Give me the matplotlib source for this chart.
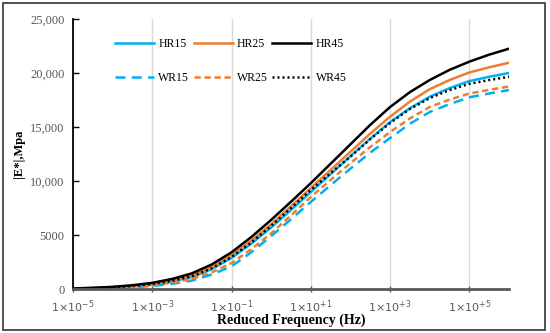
import numpy as np
import matplotlib
matplotlib.use('Agg')
import matplotlib.pyplot as plt
from matplotlib.patches import Rectangle

# reduced frequency, half-decade steps (log10)
log_freq = [-5, -4.5, -4, -3.5, -3, -2.5, -2, -1.5, -1, -0.5, 0, 0.5, 1,
            1.5, 2, 2.5, 3, 3.5, 4, 4.5, 5, 5.5, 6]

# |E*| (MPa)
hr15 = [30, 75, 140, 250, 410, 700, 1100, 1840, 2880, 4210, 5700, 7320, 8980,
        10640, 12300, 13920, 15460, 16740, 17800, 18600, 19250, 19650, 20000]
hr25 = [40, 90, 165, 295, 480, 790, 1230, 2030, 3150, 4500, 6000, 7660, 9350,
        11030, 12700, 14390, 15950, 17350, 18500, 19350, 20050, 20530, 20950]
hr45 = [50, 110, 200, 350, 570, 930, 1450, 2270, 3400, 4820, 6400, 8080, 9800,
        11600, 13400, 15200, 16850, 18230, 19350, 20290, 21050, 21700, 22250]
wr15 = [20, 48, 90, 170, 280, 480, 780, 1340, 2100, 3400, 4900, 6460, 8060,
        9620, 11150, 12630, 13980, 15300, 16390, 17120, 17750, 18100, 18420]
wr25 = [25, 63, 115, 215, 350, 590, 930, 1540, 2400, 3690, 5150, 6820, 8520,
        10100, 11650, 13150, 14540, 15790, 16850, 17530, 18100, 18440, 18750]
wr45 = [35, 85, 160, 285, 460, 760, 1180, 1920, 2960, 4310, 5850, 7500, 9170,
        10730, 12250, 13880, 15370, 16670, 17680, 18420, 19000, 19350, 19650]

x_ticks = [1e-5, 1e-3, 1e-1, 1e1, 1e3, 1e5]
x_tick_labels = [r'$1{\times}10^{-5}$', r'$1{\times}10^{-3}$', r'$1{\times}10^{-1}$',
                 r'$1{\times}10^{+1}$', r'$1{\times}10^{+3}$', r'$1{\times}10^{+5}$']
y_ticks = [0, 5000, 10000, 15000, 20000, 25000]
y_tick_labels = ['0', '5000', '10,000', '15,000', '20,000', '25,000']

blue = '#00B0F0'
orange = '#ED7D31'
gray = '#595959'

freq = 10.0 ** np.array(log_freq)

fig = plt.figure(figsize=(5.5, 3.33), dpi=100)
ax = fig.add_axes([73 / 550, 1 - 289 / 333, 436 / 550, 270 / 333])

lw = 1.8
ax.plot(freq, hr15, color=blue, lw=lw, label='HR15')
ax.plot(freq, wr15, color=blue, lw=lw, ls=(0, (4, 2.5)), label='WR15')
ax.plot(freq, hr25, color=orange, lw=lw, label='HR25')
ax.plot(freq, wr25, color=orange, lw=lw, ls=(0, (2.5, 1.5)), label='WR25')
ax.plot(freq, hr45, color='black', lw=lw, label='HR45')
ax.plot(freq, wr45, color='black', lw=lw, ls=(0, (0.8, 1.2)), label='WR45')

ax.set_xscale('log')
ax.set_xlim(1e-5, 1e6)
ax.set_ylim(0, 25000)
ax.set_xticks(x_ticks)
ax.set_xticklabels(x_tick_labels, fontsize=8, color=gray)
ax.xaxis.set_minor_locator(matplotlib.ticker.NullLocator())
ax.set_yticks(y_ticks)
ax.set_yticklabels(y_tick_labels, fontsize=9, color=gray, family='Liberation Serif')

ax.grid(axis='x', color='#d9d9d9', lw=1)
ax.set_axisbelow(True)

for s in ['top', 'right']:
    ax.spines[s].set_visible(False)
ax.spines['left'].set_color('black')
ax.spines['left'].set_linewidth(1.3)
ax.spines['bottom'].set_color(gray)
ax.spines['bottom'].set_linewidth(2)
ax.tick_params(axis='y', direction='in', length=4, width=1, color='black', pad=6)
ax.tick_params(axis='x', direction='inout', length=5, width=1, color=gray, pad=4)

ax.set_xlabel('Reduced Frequency (Hz)', family='Liberation Serif', fontweight='bold',
              fontsize=10, labelpad=-1)
ax.set_ylabel('|E*|,Mpa', family='Liberation Serif', fontweight='bold', fontsize=9,
              labelpad=4)

ax.legend(ncol=3, loc='upper left', bbox_to_anchor=(0.083, 0.952), frameon=False,
          prop={'family': 'Liberation Serif', 'size': 8.5}, handlelength=3.3,
          handletextpad=0.35, columnspacing=0.4, labelspacing=1.85, borderpad=0)

fig.patches.append(Rectangle((3 / 550, 3 / 333), 542 / 550, 327 / 333,
                             transform=fig.transFigure, fill=False, lw=1.2,
                             ec='#333333'))

fig.savefig('out.png', dpi=100)
